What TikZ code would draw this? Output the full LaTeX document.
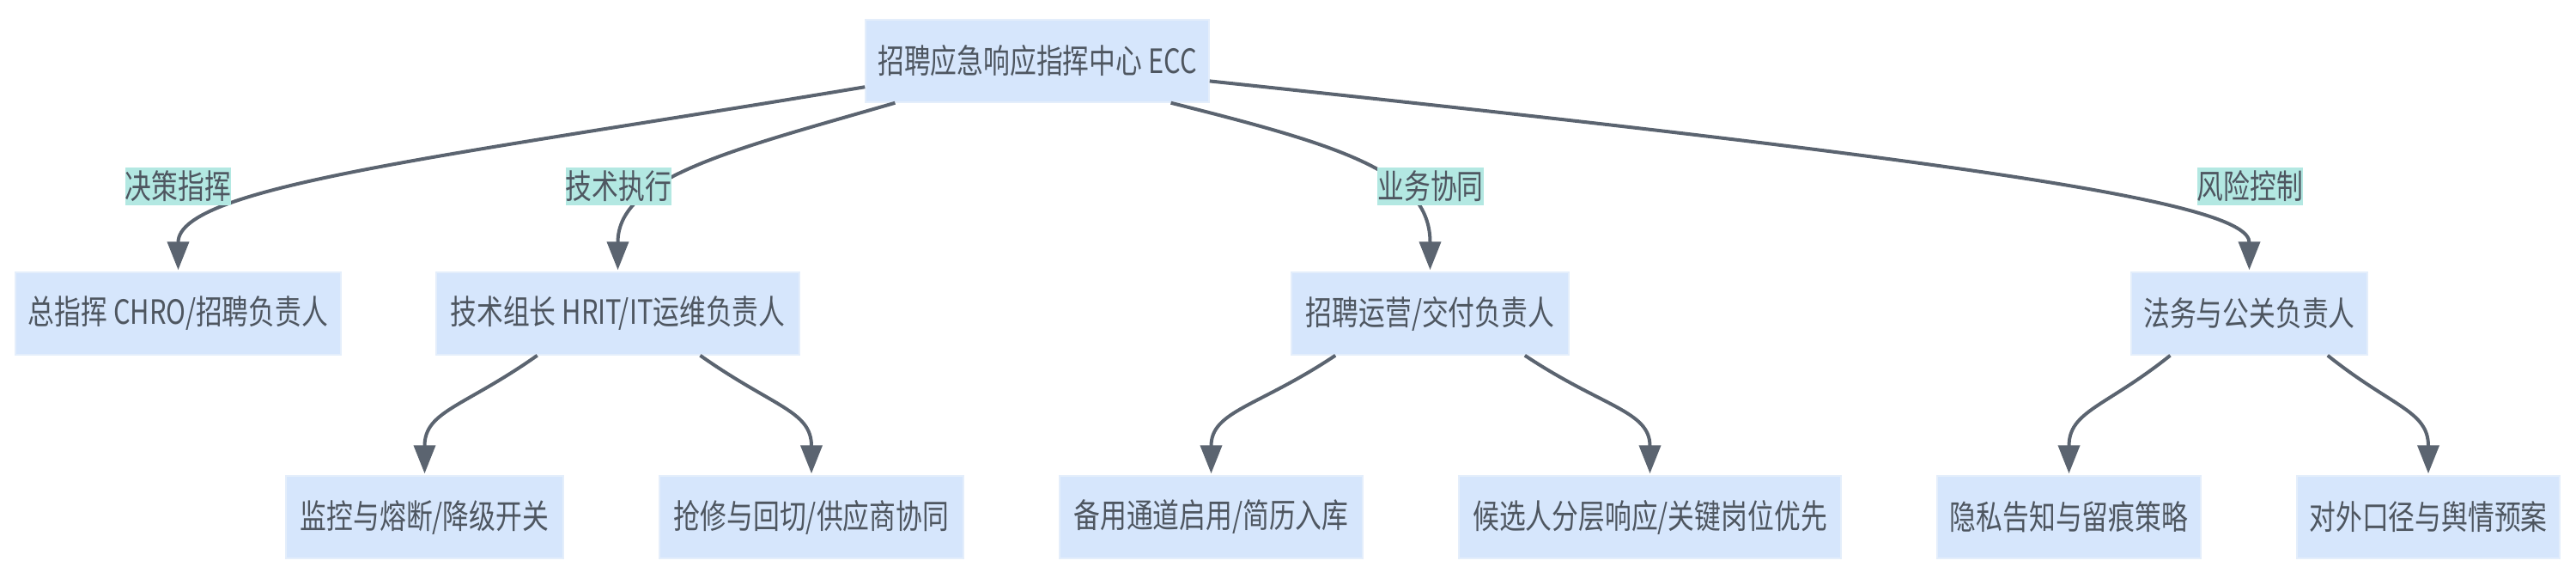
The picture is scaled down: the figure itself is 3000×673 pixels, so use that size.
\documentclass[tikz,border=0pt]{standalone}
\usepackage{fontspec}
\newfontfamily\cjk{Noto Sans CJK SC}[FakeStretch=0.79]
\usetikzlibrary{arrows.meta,calc}
\definecolor{boxfill}{HTML}{D6E6FC}
\definecolor{boxline}{HTML}{E4EEFB}
\definecolor{txt}{HTML}{4E5660}
\definecolor{edge}{HTML}{5B6470}
\definecolor{lblfill}{HTML}{B3E8E2}
\begin{document}
\begin{tikzpicture}[x=1pt,y=-1pt,
  box/.style={draw=boxline,line width=1.5pt,fill=boxfill,minimum height=96pt,inner sep=0pt,text=txt,font=\cjk\fontsize{39}{39}\selectfont},
  lbl/.style={fill=lblfill,minimum height=44pt,minimum width=123pt,inner sep=0pt,text=txt,font=\cjk\fontsize{39}{39}\selectfont},
  conn/.style={draw=edge,line width=4pt,-{Triangle[length=33pt,width=25pt]},shorten >=2pt}]
\useasboundingbox (0,0) rectangle (3000,673);
% nodes
\node[box,minimum width=400pt] (root) at (1208,71) {招聘应急响应指挥中心 ECC};
\node[box,minimum width=379pt] (chro) at (207.5,365) {总指挥 CHRO/招聘负责人};
\node[box,minimum width=423pt] (tech) at (719.5,365) {技术组长 HRIT/IT运维负责人};
\node[box,minimum width=323pt] (ops) at (1665.5,365) {招聘运营/交付负责人};
\node[box,minimum width=275pt] (legal) at (2619.5,365) {法务与公关负责人};
\node[box,minimum width=323pt] (mon) at (494.5,602) {监控与熔断/降级开关};
\node[box,minimum width=354pt] (rep) at (945,602) {抢修与回切/供应商协同};
\node[box,minimum width=353pt] (bak) at (1410.5,602) {备用通道启用/简历入库};
\node[box,minimum width=445pt] (cand) at (1921.5,602) {候选人分层响应/关键岗位优先};
\node[box,minimum width=307pt] (priv) at (2409.5,602) {隐私告知与留痕策略};
\node[box,minimum width=306pt] (pr) at (2828,602) {对外口径与舆情预案};
% edges from root
\draw[conn] ($(root.north west)!0.81!(root.south west)$) .. controls +(-480,80) and +(0,-100) .. (chro.north);
\draw[conn] ($(root.south west)!0.0875!(root.south east)$) .. controls +(-190,55) and +(0,-110) .. (tech.north);
\draw[conn] ($(root.south west)!0.8875!(root.south east)$) .. controls +(200,50) and +(0,-115) .. (ops.north);
\draw[conn] ($(root.north east)!0.74!(root.south east)$) .. controls +(900,95) and +(0,-80) .. (legal.north);
% second level edges
\draw[conn] ($(tech.south west)!0.279!(tech.south east)$) .. controls +(-85,60) and +(0,-75) .. (mon.north);
\draw[conn] ($(tech.south west)!0.726!(tech.south east)$) .. controls +(85,60) and +(0,-75) .. (rep.north);
\draw[conn] ($(ops.south west)!0.16!(ops.south east)$) .. controls +(-90,60) and +(0,-75) .. (bak.north);
\draw[conn] ($(ops.south west)!0.84!(ops.south east)$) .. controls +(90,60) and +(0,-75) .. (cand.north);
\draw[conn] ($(legal.south west)!0.167!(legal.south east)$) .. controls +(-75,60) and +(0,-75) .. (priv.north);
\draw[conn] ($(legal.south west)!0.83!(legal.south east)$) .. controls +(75,60) and +(0,-75) .. (pr.north);
% edge labels
\node[lbl] (l1) at (207.5,217) {决策指挥};
\node[lbl] (l2) at (720.5,217) {技术执行};
\node[lbl] (l3) at (1666,217) {业务协同};
\node[lbl] (l4) at (2620.5,217) {风险控制};
\end{tikzpicture}
\end{document}
